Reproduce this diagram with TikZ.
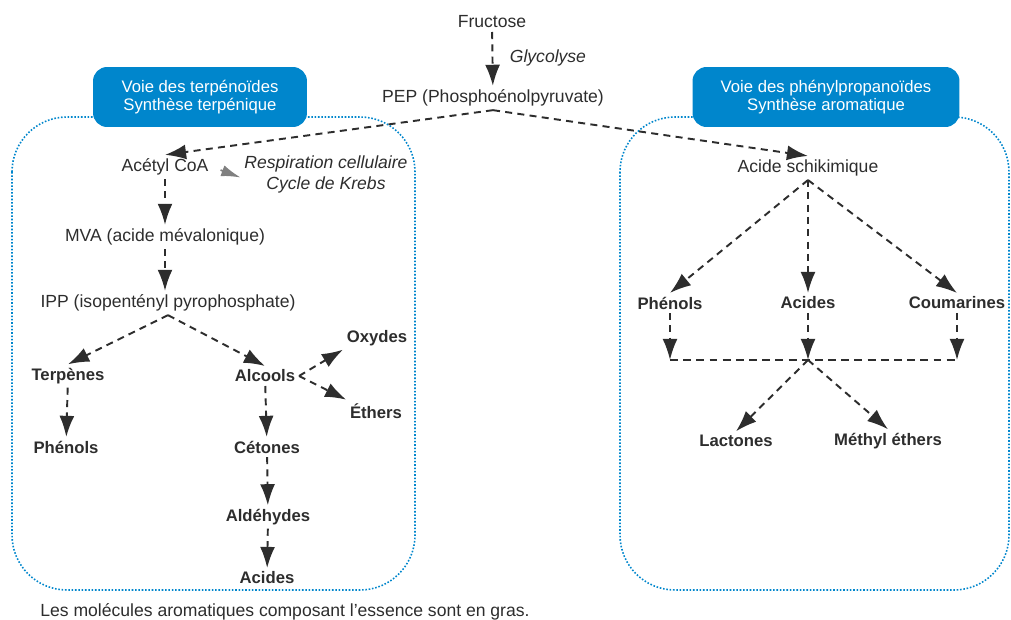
\documentclass[tikz,border=0pt]{standalone}
\usepackage{fontspec}
\setmainfont{Liberation Sans}
\usepackage{xcolor}
\usetikzlibrary{arrows.meta, positioning}
\definecolor{boxblue}{RGB}{0,134,204}
\definecolor{ink}{RGB}{45,45,45}
\tikzstyle{molecule} = [text=ink, font=\fontsize{10}{12}\selectfont, inner sep=2pt]
\tikzstyle{aroma} = [molecule, font=\fontsize{9.5}{11}\selectfont\bfseries]
\tikzstyle{note} = [molecule, font=\fontsize{10}{12}\selectfont\itshape, align=center]
\tikzstyle{pathway} = [rectangle, rounded corners=8pt, minimum height=1.2cm, fill=boxblue, text=white, align=center, font=\fontsize{9.5}{10.5}\selectfont]
\tikzstyle{zone} = [draw=boxblue, densely dotted, line width=0.9pt, rounded corners=1.1cm]
\tikzstyle{arrow} = [draw=ink, line width=1.1pt, dash pattern=on 4pt off 3pt, -{Latex[length=12pt,width=8.5pt]}]
\tikzstyle{grayarrow} = [draw=gray, line width=1pt, dash pattern=on 2pt off 2pt, -{Latex[length=11pt,width=6.5pt]}]
\tikzstyle{joint} = [draw=ink, line width=0.7pt, dash pattern=on 4.5pt off 3pt]

\begin{document}
\begin{tikzpicture}[x=0.02cm, y=-0.02cm]
\useasboundingbox (0,0) rectangle (1011,619);
% Zones
\draw [zone] (12,117) rectangle (415,590);
\draw [zone] (620,117) rectangle (1009,590);
\node (terpbox) [pathway, minimum width=4.28cm] at (200,97) {Voie des terpénoïdes\\Synthèse terpénique};
\node (phenbox) [pathway, minimum width=5.34cm] at (826,97) {Voie des phénylpropanoïdes\\Synthèse aromatique};

% Nodes
\node (fructose) [molecule] at (492,22) {Fructose};
\node (glyco) [note, anchor=west] at (506,58) {Glycolyse};
\node (pep) [molecule] at (493,98) {PEP (Phosphoénolpyruvate)};

\node (acetyl) [molecule] at (165,167) {Acétyl CoA};
\node (krebs) [note] at (326,174) {Respiration cellulaire\\Cycle de Krebs};
\node (mva) [molecule] at (165,237) {MVA (acide mévalonique)};
\node (ipp) [molecule] at (168,303) {IPP (isopentényl pyrophosphate)};
\node (terpenes) [aroma] at (68,376) {Terpènes};
\node (phenolsL) [aroma] at (66,447) {Phénols};
\node (alcools) [aroma] at (265,376) {Alcools};
\node (oxydes) [aroma] at (377,338) {Oxydes};
\node (ethers) [aroma] at (376,411) {Éthers};
\node (cetones) [aroma] at (267,447) {Cétones};
\node (aldehydes) [aroma] at (268,517) {Aldéhydes};
\node (acidesL) [aroma] at (267,578) {Acides};

\node (schik) [molecule] at (808,168) {Acide schikimique};
\node (phenolsR) [aroma] at (670,303) {Phénols};
\node (acidesR) [aroma] at (808,303) {Acides};
\node (coumarines) [aroma] at (957,303) {Coumarines};
\coordinate (jPhen) at (670,360);
\coordinate (jAcid) at (808,360);
\coordinate (jCoum) at (957,360);
\node (lactones) [aroma] at (736,441) {Lactones};
\node (methyl) [aroma] at (888,441) {Méthyl éthers};

\node (footer) [molecule, anchor=base west, inner sep=0pt] at (40,616) {Les molécules aromatiques composant l’essence sont en gras.};

% Arrows
\draw [arrow] (fructose) -- (pep);
\draw [arrow] (pep.south) -- (acetyl.north);
\draw [arrow] (pep.south) -- (schik.north);
\draw [grayarrow, shorten <=5pt] (acetyl.east) -- ([yshift=-2pt]krebs.west);
\draw [arrow] (acetyl) -- (mva);
\draw [arrow] (mva.south) -- (mva.south |- ipp.north);
\draw [arrow] (ipp.south) -- (terpenes.north);
\draw [arrow] (ipp.south) -- (alcools.north);
\draw [arrow] (terpenes) -- (phenolsL);
\draw [arrow] (alcools.east) -- (oxydes.south west);
\draw [arrow] (alcools.east) -- (ethers.north west);
\draw [arrow] (alcools) -- (cetones);
\draw [arrow] (cetones) -- (aldehydes);
\draw [arrow] (aldehydes) -- (acidesL);

\draw [arrow] (schik.south) -- (phenolsR.north);
\draw [arrow] (schik.south) -- (acidesR.north);
\draw [arrow] (schik.south) -- (coumarines.north);
\draw [arrow] (phenolsR) -- (jPhen);
\draw [arrow] (acidesR) -- (jAcid);
\draw [arrow] (coumarines) -- (jCoum);
\draw [joint] (jPhen) -- (jCoum);
\draw [arrow] (jAcid) -- (lactones.north);
\draw [arrow] (jAcid) -- (methyl.north);
\end{tikzpicture}
\end{document}
